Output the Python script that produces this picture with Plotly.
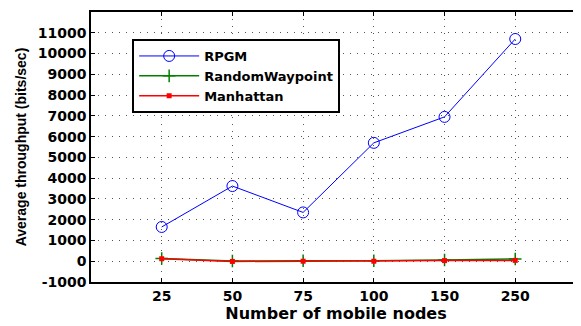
import plotly.graph_objects as go

categories = ["25", "50", "75", "100", "150", "250"]
rpgm = [1650, 3620, 2350, 5700, 6950, 10700]
random_waypoint = [130, 10, 20, 20, 60, 110]
manhattan = [120, -10, 0, 0, 30, 40]
y_ticks = list(range(-1000, 12001, 1000))
y_tick_text = [str(v) for v in y_ticks]

x_pos = list(range(1, len(categories) + 1))

fig = go.Figure()
fig.add_trace(go.Scatter(x=x_pos, y=rpgm, name="RPGM", mode="lines+markers",
                         line=dict(color="#0000ff", width=1),
                         marker=dict(symbol="circle-open", size=11, color="#0000ff", line=dict(width=1))))
fig.add_trace(go.Scatter(x=x_pos, y=random_waypoint, name="RandomWaypoint", mode="lines+markers",
                         line=dict(color="#008000", width=1.5),
                         marker=dict(symbol="cross-thin-open", size=9, color="#008000", line=dict(width=1.5, color="#008000"))))
fig.add_trace(go.Scatter(x=x_pos, y=manhattan, name="Manhattan", mode="lines+markers",
                         line=dict(color="#ff0000", width=1.5),
                         marker=dict(symbol="square", size=5, color="#ff0000")))

wide = "DejaVu Sans"
# The page body has an 8px margin, so the figure is sized to fill the window from (8, 8).
fig.update_layout(
    width=573, height=318,
    margin=dict(l=83, r=0, t=4, b=44, autoexpand=False),
    paper_bgcolor="white", plot_bgcolor="white",
    font=dict(family=wide, color="black", size=13),
    legend=dict(x=0.084, y=0.9, xanchor="left", yanchor="top",
                bgcolor="white", bordercolor="black", borderwidth=2,
                font=dict(size=13, family=wide, weight="bold"),
                tracegroupgap=0, itemwidth=60),
    xaxis=dict(range=[0, 6.93], tickmode="array", tickvals=x_pos, ticktext=categories,
               automargin=False,
               showgrid=True, gridcolor="#555555", griddash="1px,6px", gridwidth=1,
               showline=True, linecolor="black", linewidth=1.5, mirror="ticks",
               ticks="inside", ticklen=4, tickcolor="black",
               tickfont=dict(size=14, family=wide, weight="bold"), zeroline=False,
               title=dict(text="Number of mobile nodes", font=dict(size=16, family=wide, weight="bold"), standoff=0)),
    yaxis=dict(range=[-1000, 12000], tickmode="array", tickvals=y_ticks, ticktext=y_tick_text,
               automargin=False,
               showgrid=True, gridcolor="#555555", griddash="1px,6px", gridwidth=1,
               showline=True, linecolor="black", linewidth=1.5, mirror="ticks",
               ticks="inside", ticklen=4, tickcolor="black",
               tickfont=dict(size=14, family=wide, weight="bold"), zeroline=False,
               title=dict(text="Average throughput (bits/sec)", font=dict(size=14, family="Liberation Sans", weight="bold"), standoff=8)),
)
fig.write_html("out.html")
